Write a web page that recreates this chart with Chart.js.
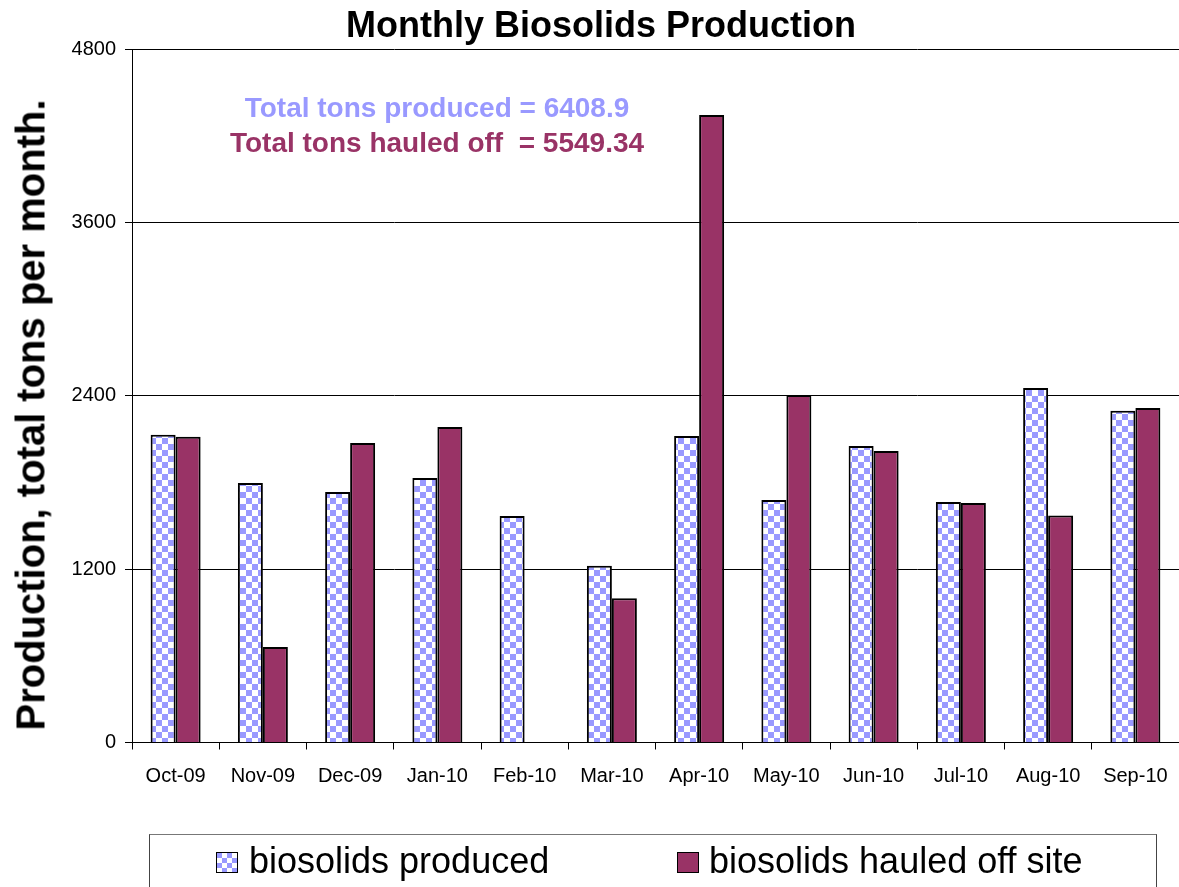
<!DOCTYPE html>
<html>
<head>
<meta charset="utf-8">
<script src="https://cdn.jsdelivr.net/npm/chart.js@4/dist/chart.umd.min.js"></script>
<style>
  html, body { margin: 0; padding: 0; background: #fff; }
  #wrap { position: relative; width: 1179px; height: 887px; overflow: hidden; font-family: "Liberation Sans", Arial, sans-serif; }
  #c { position: absolute; left: 0; top: 0; }
  .txt { position: absolute; white-space: nowrap; color: #000; }
  #title { left: 601px; top: 25px; transform: translate(-50%, -50%); font-size: 36px; font-weight: bold; }
  #ytitle { font-size: 40px; font-weight: bold; left: 31px; top: 415px; transform: translate(-50%, -50%) rotate(-90deg); }
  #ann1 { left: 437px; top: 108px; transform: translate(-50%, -50%); font-size: 28px; font-weight: bold; color: #9999FF; }
  #ann2 { left: 437px; top: 143px; transform: translate(-50%, -50%); font-size: 28px; font-weight: bold; color: #993366; white-space: pre; }
  #legend { position: absolute; left: 149px; top: 834px; width: 1008px; height: 80px; border: 1px solid #444; border-top-color: #777; box-sizing: border-box; }
  .sw { position: absolute; top: 17px; width: 22px; height: 21px; border: 1.5px solid #000; box-sizing: border-box; }
  .lt { position: absolute; top: 5px; font-size: 36px; }
</style>
</head>
<body>
<div id="wrap">
  <canvas id="c" width="1179" height="887"></canvas>
  <div id="title" class="txt">Monthly Biosolids Production</div>
  <div id="ytitle" class="txt">Production, total tons per month.</div>
  <div id="ann1" class="txt">Total tons produced = 6408.9</div>
  <div id="ann2" class="txt">Total tons hauled off  = 5549.34</div>
  <div id="legend">
    <div class="sw" id="sw1" style="left:66px;"></div>
    <div class="lt" style="left:99px;">biosolids produced</div>
    <div class="sw" id="sw2" style="left:527px; background:#993366;"></div>
    <div class="lt" style="left:559px;">biosolids hauled off site</div>
  </div>
</div>
<script>
const months = ["Oct-09","Nov-09","Dec-09","Jan-10","Feb-10","Mar-10","Apr-10","May-10","Jun-10","Jul-10","Aug-10","Sep-10"];
const produced = [2130, 1796, 1734, 1831, 1568, 1224, 2121, 1678, 2052, 1664, 2454, 2297];
const hauled   = [2117, 661, 2073, 2184, 0, 998, 4343, 2405, 2018, 1657, 1572, 2315];
const yTicks = [0, 1200, 2400, 3600, 4800];

function makeChecker(cell, fg, bg) {
  const p = document.createElement('canvas');
  p.width = cell * 2; p.height = cell * 2;
  const g = p.getContext('2d');
  g.fillStyle = bg; g.fillRect(0, 0, cell * 2, cell * 2);
  g.fillStyle = fg;
  g.fillRect(0, 0, cell, cell);
  g.fillRect(cell, cell, cell, cell);
  return p;
}
const patCanvas = makeChecker(6, '#9999FF', '#FFFFFF');
document.getElementById('sw1').style.background = 'url(' + makeChecker(5, '#9999FF', '#FFFFFF').toDataURL() + ')';

const ctx = document.getElementById('c').getContext('2d');
const pattern = ctx.createPattern(patCanvas, 'repeat');

new Chart(ctx, {
  type: 'bar',
  data: {
    labels: months,
    datasets: [
      { label: 'biosolids produced', data: produced, backgroundColor: pattern, borderColor: '#000', borderWidth: 2, borderSkipped: 'bottom' },
      { label: 'biosolids hauled off site', data: hauled, backgroundColor: '#993366', borderColor: '#000', borderWidth: 2, borderSkipped: 'bottom' }
    ]
  },
  options: {
    responsive: false,
    animation: false,
    devicePixelRatio: 1,
    datasets: { bar: { categoryPercentage: 0.573, barPercentage: 1 } },
    layout: { padding: { top: 49, left: 0, right: 0, bottom: 0 } },
    plugins: { legend: { display: false }, title: { display: false }, tooltip: { enabled: false } },
    scales: {
      x: {
        offset: true,
        grid: { offset: true, drawOnChartArea: false, drawTicks: true, tickLength: 7, color: '#000', lineWidth: 1 },
        border: { display: true, color: '#000', width: 1 },
        ticks: { color: '#000', font: { family: 'Liberation Sans', size: 20 }, padding: 15, maxRotation: 0, autoSkip: false },
        afterFit: (s) => { s.height = 144.5; s.paddingLeft = 0; s.paddingRight = 0; }
      },
      y: {
        min: 0, max: 4800,
        afterBuildTicks: (s) => { s.ticks = yTicks.map(v => ({ value: v })); },
        grid: { color: '#000', lineWidth: 1, drawTicks: true, tickLength: 7, tickColor: '#000' },
        border: { display: true, color: '#000', width: 1 },
        ticks: { color: '#000', font: { family: 'Liberation Sans', size: 20 }, padding: 9, callback: (v) => String(v) },
        afterFit: (s) => { s.width = 132; s.paddingTop = 0; s.paddingBottom = 0; }
      }
    }
  }
});
</script>
</body>
</html>
